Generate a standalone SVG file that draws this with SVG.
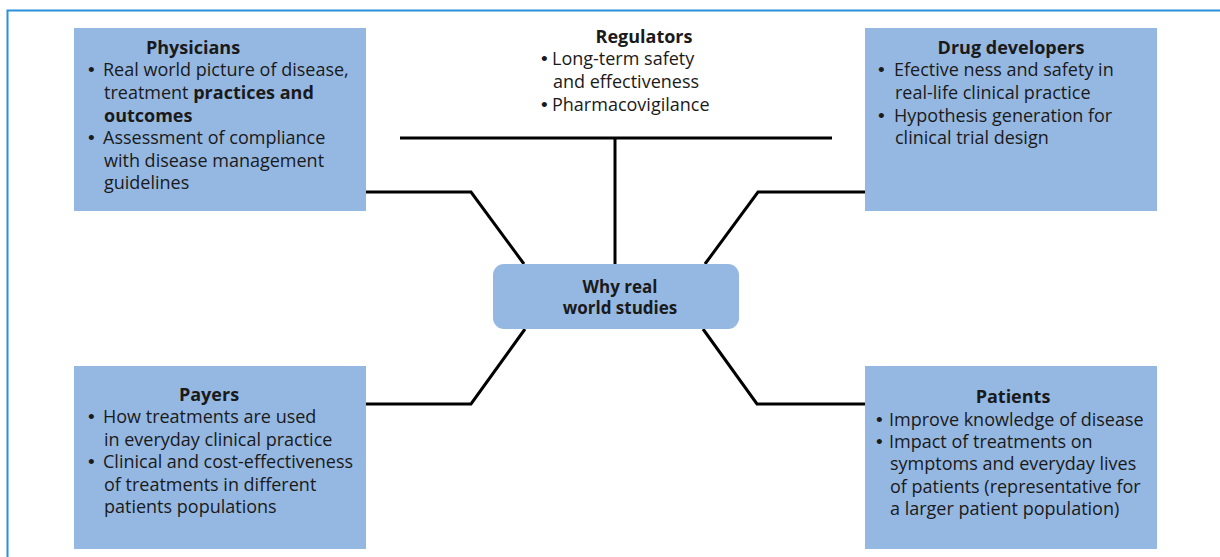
<svg xmlns="http://www.w3.org/2000/svg" width="1220" height="557" viewBox="0 0 1220 557">
<style>
.box{fill:#95b8e2}
.t{font-family:"Open Sans","Liberation Sans",sans-serif;font-size:18px;fill:#1a1a1a}
.d{font-family:"Liberation Sans","Open Sans",sans-serif;font-size:19px;fill:#1a1a1a}
.h{font-family:"Open Sans","Liberation Sans",sans-serif;font-size:18px;font-weight:bold;fill:#1a1a1a;text-anchor:middle}
.m{font-size:17px}
.b{font-weight:bold}
.c{fill:none;stroke:#000;stroke-width:3;stroke-linejoin:miter}
</style>
<rect width="1220" height="557" fill="#fff"/>
<path d="M7.5,557 V10.5 H1220" fill="none" stroke="#2b90da" stroke-width="2"/>
<g id="connectors">
<path class="c" d="M400,138 H832"/>
<path class="c" d="M615,138 V264"/>
<path class="c" d="M366,192 H471 L524,264"/>
<path class="c" d="M865,192 H758 L705,264"/>
<path class="c" d="M366,404 H471 L525,329"/>
<path class="c" d="M865,404 H757 L703,329"/>
</g>
<g id="physicians">
<rect class="box" x="74" y="28" width="292" height="183"/>
<text class="h" x="193" y="54">Physicians</text>
<text class="d" x="88" y="76">•</text>
<text class="t" x="103" y="76">Real world picture of disease,</text>
<text class="t" x="104" y="99">treatment <tspan class="b">practices and</tspan></text>
<text class="t b" x="104" y="122">outcomes</text>
<text class="d" x="88" y="144">•</text>
<text class="t" x="103" y="144">Assessment of compliance</text>
<text class="t" x="104" y="167">with disease management</text>
<text class="t" x="104" y="189">guidelines</text>
</g>
<g id="regulators">
<text class="h" x="644" y="43">Regulators</text>
<text class="d" x="541" y="65">•</text>
<text class="t" x="552" y="65">Long-term safety</text>
<text class="t" x="553" y="88">and effectiveness</text>
<text class="d" x="541" y="111">•</text>
<text class="t" x="552" y="111">Pharmacovigilance</text>
</g>
<g id="drug-developers">
<rect class="box" x="865" y="28" width="292" height="183"/>
<text class="h" x="1011" y="54">Drug developers</text>
<text class="d" x="878" y="76">•</text>
<text class="t" x="894" y="76">Efective ness and safety in</text>
<text class="t" x="895" y="99">real-life clinical practice</text>
<text class="d" x="878" y="122">•</text>
<text class="t" x="894" y="122">Hypothesis generation for</text>
<text class="t" x="895" y="144">clinical trial design</text>
</g>
<g id="center">
<rect class="box" x="493" y="264" width="246" height="65" rx="11"/>
<text class="h m" x="620" y="293">Why real</text>
<text class="h m" x="620" y="314">world studies</text>
</g>
<g id="payers">
<rect class="box" x="74" y="366" width="292" height="183"/>
<text class="h" x="209" y="401">Payers</text>
<text class="d" x="88" y="423">•</text>
<text class="t" x="103" y="423">How treatments are used</text>
<text class="t" x="104" y="446">in everyday clinical practice</text>
<text class="d" x="88" y="468">•</text>
<text class="t" x="103" y="468">Clinical and cost-effectiveness</text>
<text class="t" x="104" y="491">of treatments in different</text>
<text class="t" x="104" y="513">patients populations</text>
</g>
<g id="patients">
<rect class="box" x="865" y="366" width="292" height="183"/>
<text class="h" x="1013" y="403">Patients</text>
<text class="d" x="876" y="426">•</text>
<text class="t" x="889" y="426">Improve knowledge of disease</text>
<text class="d" x="876" y="448">•</text>
<text class="t" x="889" y="448">Impact of treatments on</text>
<text class="t" x="890" y="470">symptoms and everyday lives</text>
<text class="t" x="890" y="493">of patients (representative for</text>
<text class="t" x="890" y="515">a larger patient population)</text>
</g>
</svg>
